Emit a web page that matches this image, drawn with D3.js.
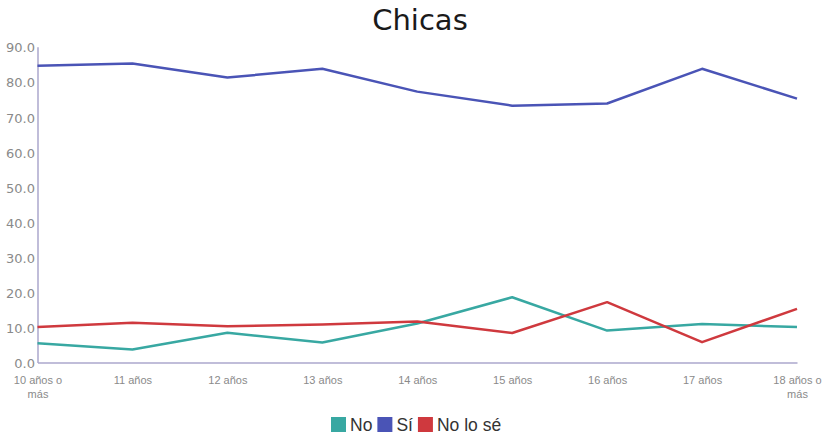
<!DOCTYPE html>
<html><head><meta charset="utf-8">
<script src="https://cdn.jsdelivr.net/npm/d3@7"></script>
<style>body{margin:0;background:#fff;} svg{display:block;}</style>
</head><body>
<svg id="c" width="826" height="439"></svg>
<script>
const categories = ["10 años o más","11 años","12 años","13 años","14 años","15 años","16 años","17 años","18 años o más"];
const seriesNames = ["No","Sí","No lo sé"];
const valuesNo = [5.5,3.7,8.5,5.7,11.1,18.6,9.1,11.0,10.1];
const valuesSi = [84.6,85.2,81.2,83.7,77.2,73.2,73.8,83.7,75.2];
const valuesNoLoSe = [10.1,11.3,10.3,10.8,11.7,8.4,17.2,5.8,15.3];
const yTicks = [0,10,20,30,40,50,60,70,80,90];
const colors = ["#38a8a2","#4a54b6","#cf393e"];

(function(){
const svg = d3.select("#c");
const mLeft = 37.5, mRight = 797, mTop = 46.7, mBottom = 362.5;
const x = d3.scalePoint().domain(categories).range([mLeft, mRight]);
const y = d3.scaleLinear().domain([0,90]).range([mBottom, mTop]);

svg.append("text").attr("x", 420).attr("y", 30).attr("text-anchor","middle")
  .attr("font-family","DejaVu Sans, sans-serif").attr("font-size", 29).attr("fill","#1a1a1a").text("Chicas");

// y axis
const ya = svg.append("g").attr("transform",`translate(${mLeft},0)`)
  .call(d3.axisLeft(y).tickValues(yTicks).tickFormat(d3.format(".1f")).tickSize(0).tickPadding(2.5));
ya.select(".domain").attr("stroke","#aba7cc").attr("stroke-width",1.5);
ya.selectAll("text").attr("font-family","DejaVu Sans, sans-serif").attr("font-size",13).attr("fill","#8a8a8a").attr("dy","0.4em");

// x axis
const xa = svg.append("g").attr("transform",`translate(0,${mBottom})`)
  .call(d3.axisBottom(x).tickSize(0).tickPadding(14));
xa.select(".domain").attr("stroke","#aba7cc").attr("stroke-width",1.5);
xa.selectAll("text").attr("font-family","Liberation Sans, Arial, sans-serif").attr("font-size",11).attr("fill","#8a8a8a")
  .each(function(d){
    const t = d3.select(this);
    if (d.endsWith(" o más")) {
      t.text(null);
      t.append("tspan").attr("x",0).attr("dy","0.71em").text(d.replace(" más",""));
      t.append("tspan").attr("x",0).attr("dy","1.2em").text("más");
    }
  });

const all = [valuesNo, valuesSi, valuesNoLoSe];
const line = d3.line().x((d,i)=>x(categories[i])).y(d=>y(d));
all.forEach((vals,k)=>{
  svg.append("path").datum(vals).attr("d", line).attr("fill","none")
    .attr("stroke", colors[k]).attr("stroke-width", 2.5).attr("stroke-linejoin","round");
});

// legend
const legend = svg.append("g").attr("font-family","Liberation Sans, Arial, sans-serif").attr("font-size",17.5).attr("fill","#333");
let lx = 331;
seriesNames.forEach((n,k)=>{
  legend.append("rect").attr("x", lx).attr("y", 417).attr("width",15).attr("height",15).attr("fill",colors[k]);
  const t = legend.append("text").attr("x", lx+19).attr("y", 431).attr("fill","#333").text(n);
  lx += 19 + t.node().getComputedTextLength() + 5;
});
})();
</script>
</body></html>
